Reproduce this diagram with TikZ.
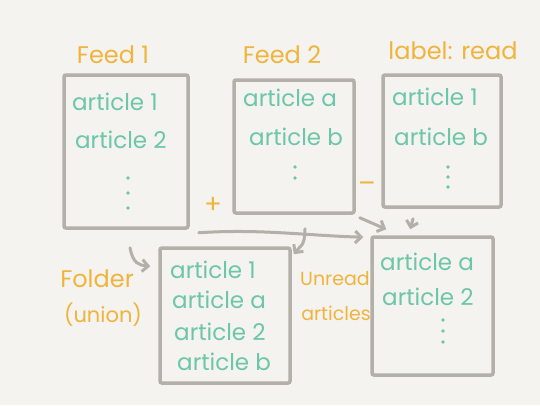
\documentclass[tikz,border=0pt]{standalone}
\usepackage{fontspec}
\setmainfont{Poppins}
\usepackage{xcolor}
\definecolor{cPaper}{HTML}{F4F3EF}
\definecolor{cBox}{HTML}{B3AFA9}
\definecolor{cOrange}{HTML}{F0B43C}
\definecolor{cTeal}{HTML}{6CC6AA}
\usetikzlibrary{arrows.meta}
\usetikzlibrary{calc}

\begin{document}
\begin{tikzpicture}[x=1pt, y=-1pt,
	list/.style={draw=cBox, line width=3.5pt, rounded corners=2pt, inner sep=0pt},
	entry/.style={text=cTeal, font=\fontsize{23}{24}\selectfont, anchor=west, inner sep=0pt},
	title/.style={text=cOrange, font=\fontsize{24}{24}\selectfont, inner sep=0pt},
	arrow/.style={draw=cBox, line width=3pt, line cap=round, -{Straight Barb[length=6pt,width=12pt]}}]
	\fill [cPaper] (0,0) rectangle (540,405);
	% source lists
	\node [list, minimum width=124pt, minimum height=153pt] (feed1) at (126,151.5) {};
	\node [list, minimum width=120pt, minimum height=133pt] (feed2) at (294,146.5) {};
	\node [list, minimum width=118pt, minimum height=132pt] (read) at (442,141) {};
	% result lists
	\node [list, minimum width=130pt, minimum height=135pt] (folder) at (225,315.5) {};
	\node [list, minimum width=121pt, minimum height=138pt] (unread) at (432.5,306) {};
	% titles
	\node [title] (t1) at (113,55) {Feed 1};
	\node [title] (t2) at (282,55) {Feed 2};
	\node [title] (t3) at (453,51) {label: read};
	\node [title] (t4) at (97,279) {Folder};
	\node [title, font=\fontsize{21}{22}\selectfont] (t5) at (103,315) {(union)};
	\node [title, font=\fontsize{19}{22}\selectfont] (t6) at (335,279) {Unread};
	\node [title, font=\fontsize{19}{22}\selectfont] (t7) at (336,313) {articles};
	\node [title, font=\fontsize{26}{26}\selectfont] (plus) at (213,205) {+};
	\node [title, font=\fontsize{26}{26}\selectfont] (minus) at (367,187) {–};
	% entries
	\node [entry] (f1a) at (72,102) {article 1};
	\node [entry] (f1b) at (75,140) {article 2};
	\node [entry] (f2a) at (243,98) {article a};
	\node [entry] (f2b) at (249,137) {article b};
	\node [entry] (r1) at (392,97) {article 1};
	\node [entry] (r2) at (394,137) {article b};
	\node [entry] (u1) at (170,270) {article 1};
	\node [entry] (u2) at (172,300) {article a};
	\node [entry] (u3) at (174,332) {article 2};
	\node [entry] (u4) at (177,362) {article b};
	\node [entry] (n1) at (380,262) {article a};
	\node [entry] (n2) at (382,297) {article 2};
	\foreach \y in {178,193,208} \fill [cTeal] (128,\y) circle (1.8pt);
	\foreach \y in {167,178} \fill [cTeal] (295,\y) circle (1.8pt);
	\foreach \y in {167,177,187} \fill [cTeal] (448,\y) circle (1.8pt);
	\foreach \y in {320,331,342} \fill [cTeal] (443,\y) circle (1.8pt);
	% arrows
	\draw [arrow] ([xshift=4pt,yshift=-18pt]feed1.south) .. controls +(3,16) and +(-11,-1) .. ([xshift=-8pt,yshift=-20pt]folder.north west);
	\draw [arrow] ([xshift=9pt,yshift=-3pt]feed1.south east) .. controls +(60,-4) and +(-60,-2) .. ([xshift=-7pt,yshift=-2pt]unread.north west);
	\draw [arrow] ([xshift=11pt,yshift=-14pt]feed2.south) .. controls +(0,18) and +(6,-8) .. ([xshift=2pt,yshift=-8pt]folder.north east);
	\draw [arrow] ([xshift=4pt,yshift=-3pt]feed2.south east) -- ([xshift=16pt,yshift=6pt]unread.north west);
	\draw [arrow] ([xshift=-29pt,yshift=-10pt]read.south) -- ([xshift=40pt,yshift=6pt]unread.north west);
\end{tikzpicture}
\end{document}
